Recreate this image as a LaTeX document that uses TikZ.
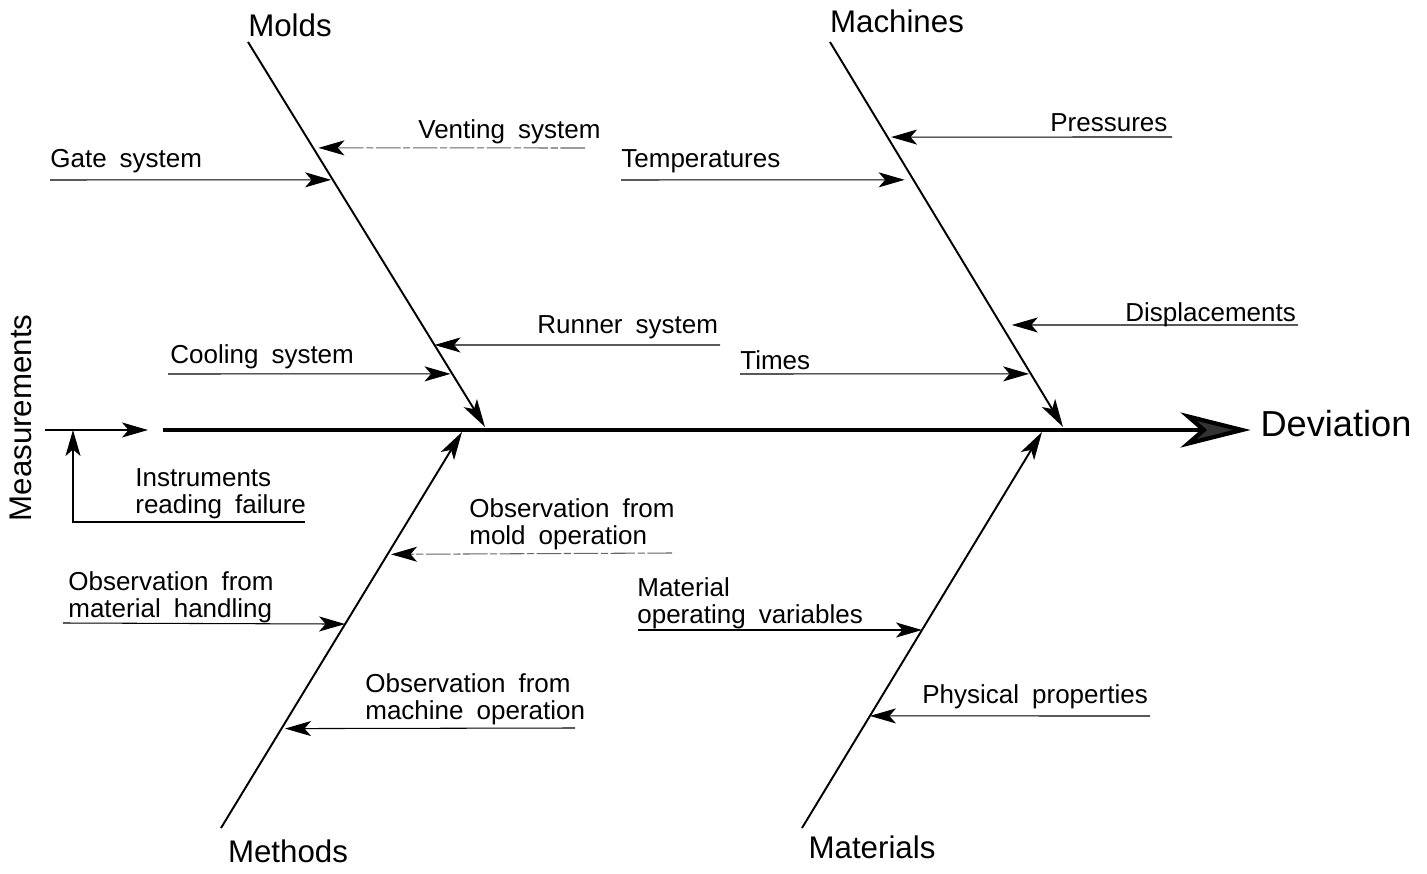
\documentclass[tikz,border=0pt]{standalone}
\usepackage{fontspec}
\setmainfont{Liberation Sans}[WordSpace=1.8]
\usetikzlibrary{arrows.meta,calc}

\begin{document}
\begin{tikzpicture}[
  x=0.02cm, y=-0.02cm,
  cat/.style={font=\fontsize{17.8}{20}\selectfont, inner sep=0pt},
  lbl/.style={font=\fontsize{14.8}{15.4}\selectfont, inner sep=0pt, align=left, anchor=north west},
  bone/.style={line width=1.1pt, -{Stealth[length=5.6mm, width=3.1mm, inset=1.4mm]}},
  cause/.style={line width=0.6pt, -{Stealth[length=5.2mm, width=3mm, inset=1.3mm]}},
  faint/.style={line width=0.6pt, draw=black!60, dash pattern=on 14pt off 1.5pt on 4pt off 1.5pt,
    -{Stealth[length=5.2mm, width=3mm, inset=1.3mm, color=black]}},
  spine/.style={line width=2.4pt, -{Stealth[length=14mm, width=7mm, inset=4mm, fill=black!80]}}
]
\useasboundingbox (0,0) rectangle (1427,874);

% category names
\node[cat] (molds) at (290,25) {Molds};
\node[cat] (machines) at (897,21) {Machines};
\node[cat] (methods) at (288,851) {Methods};
\node[cat] (materials) at (872,847) {Materials};
\node[cat, rotate=90] (meas) at (21,418) {Measurements};
\node[cat, font=\fontsize{20.6}{23}\selectfont] (dev) at (1336,424) {Deviation};

% bone ends
\coordinate (moldsTop) at (248,42);
\coordinate (moldsTip) at (485,427);
\coordinate (machTop) at (830,42);
\coordinate (machTip) at (1063,427);
\coordinate (methBot) at (221,828);
\coordinate (methTip) at (462,432);
\coordinate (matBot) at (802,828);
\coordinate (matTip) at (1042,432);
\coordinate (spineL) at (163,430);

% main spine and bones
\draw[spine, shorten >=5.5pt] (spineL) -- (spineL -| dev.west);
\draw[bone] (moldsTop) -- (moldsTip);
\draw[bone] (machTop) -- (machTip);
\draw[bone] (methBot) -- (methTip);
\draw[bone] (matBot) -- (matTip);

% measurements
\coordinate (measIn) at (45,430);
\coordinate (measOut) at (148,430);
\coordinate (measJoin) at (73,430);
\coordinate (instrS) at (305,522);
\draw[cause] (measIn) -- (measOut);
\node[lbl] (instr) at (135,468) {Instruments\\reading failure};
\draw[cause] (instrS) -| (measJoin);

% molds
\coordinate (vent) at ($(moldsTop)!0.275!(moldsTip)$);
\coordinate (gate) at ($(moldsTop)!0.358!(moldsTip)$);
\coordinate (runner) at ($(moldsTop)!0.787!(moldsTip)$);
\coordinate (cool) at ($(moldsTop)!0.862!(moldsTip)$);
\node[lbl] (ventT) at (418,119) {Venting system};
\node[lbl] (gateT) at (50,149) {Gate system};
\node[lbl] (runnerT) at (537,315) {Runner system};
\node[lbl] (coolT) at (170,344) {Cooling system};
\coordinate (ventS) at (585,148);
\coordinate (gateS) at (50,180);
\coordinate (runnerS) at (720,345);
\coordinate (coolS) at (168,374);
\draw[faint, shorten >=3pt] (ventS) -- (vent);
\draw[cause, shorten >=1pt] (gateS) -- (gate);
\draw[cause] (runnerS) -- (runner);
\draw[cause, shorten >=1pt] (coolS) -- (cool);

% machines
\coordinate (press) at ($(machTop)!0.247!(machTip)$);
\coordinate (temp) at ($(machTop)!0.358!(machTip)$);
\coordinate (disp) at ($(machTop)!0.735!(machTip)$);
\coordinate (times) at ($(machTop)!0.862!(machTip)$);
\node[lbl] (pressT) at (1050,113) {Pressures};
\node[lbl] (tempT) at (621,149) {Temperatures};
\node[lbl] (dispT) at (1125,302) {Displacements};
\node[lbl] (timesT) at (740,350) {Times};
\coordinate (pressS) at (1172,137);
\coordinate (tempS) at (621,180);
\coordinate (dispS) at (1298,325);
\coordinate (timesS) at (740,374);
\draw[cause, shorten >=2pt] (pressS) -- (press);
\draw[cause, shorten >=5pt] (tempS) -- (temp);
\draw[cause, shorten >=6pt] (dispS) -- (disp);
\draw[cause, shorten >=1pt] (timesS) -- (times);

% methods
\coordinate (moldop) at ($(methBot)!0.691!(methTip)$);
\coordinate (handl) at ($(methBot)!0.515!(methTip)$);
\coordinate (machop) at ($(methBot)!0.251!(methTip)$);
\node[lbl] (moldopT) at (469,498) {Observation from\\mold operation};
\node[lbl] (handlT) at (68,571) {Observation from\\material handling};
\node[lbl] (machopT) at (365,673) {Observation from\\machine operation};
\coordinate (moldopS) at (672,553);
\coordinate (handlS) at (63,623);
\coordinate (machopS) at (575,728);
\draw[faint, shorten >=2pt] (moldopS) -- (moldop);
\draw[cause] (handlS) -- (handl);
\draw[cause, shorten >=2pt] (machopS) -- (machop);

% materials
\coordinate (opvar) at ($(matBot)!0.5!(matTip)$);
\coordinate (phys) at ($(matBot)!0.283!(matTip)$);
\node[lbl] (opvarT) at (637,577) {Material\\operating variables};
\node[lbl] (physT) at (922,684) {Physical properties};
\coordinate (opvarS) at (638,630);
\coordinate (physS) at (1150,716);
\draw[cause] (opvarS) -- (opvar);
\draw[cause] (physS) -- (phys);
\end{tikzpicture}
\end{document}
